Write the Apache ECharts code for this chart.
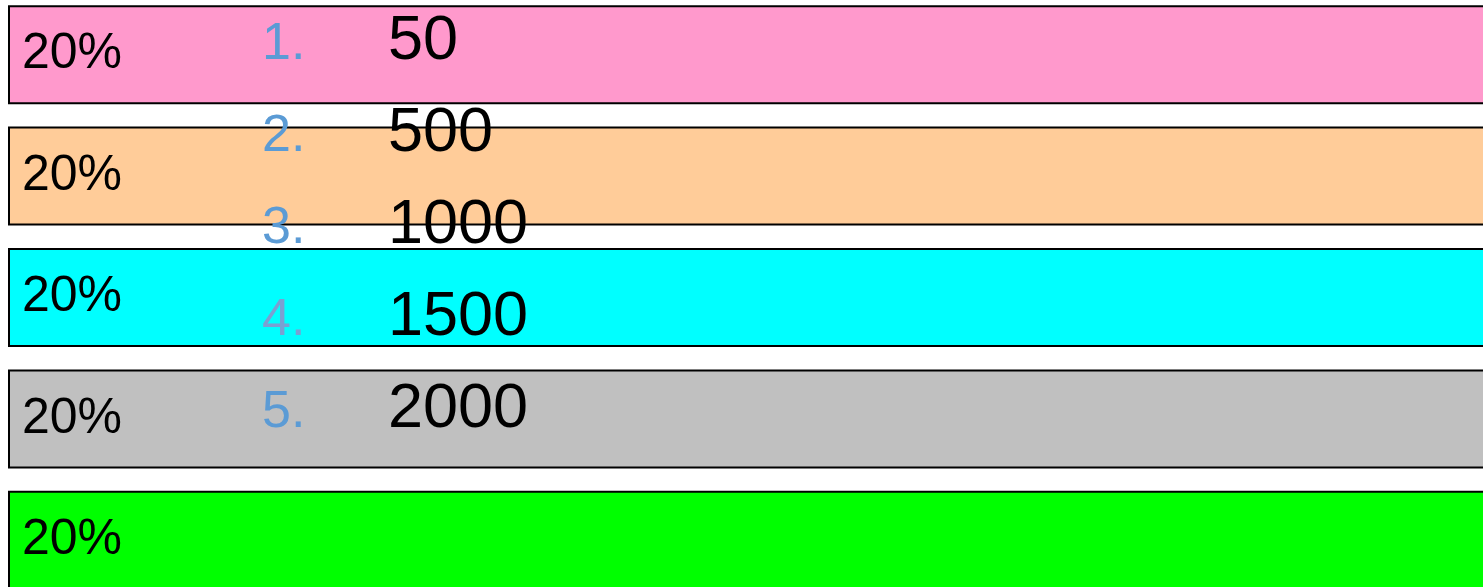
<!DOCTYPE html>
<html>
<head>
<meta charset="utf-8">
<script src="https://cdn.jsdelivr.net/npm/echarts@6/dist/echarts.min.js"></script>
<style>
html,body{margin:0;padding:0;background:#fff;overflow:hidden;width:1483px;height:587px;position:relative;}
#chart{position:absolute;left:0;top:-6px;width:1520px;height:607px;}
</style>
</head>
<body>
<div id="chart"></div>
<script>
// Data
var categories = ['A', 'B', 'C', 'D', 'E'];
var shareValues = [20, 20, 20, 20, 20];
var barColors = ['#ff99cc', '#ffcc99', '#00ffff', '#c0c0c0', '#00ff00'];
var listNumbers = ['1.', '2.', '3.', '4.', '5.'];
var listValues = ['50', '500', '1000', '1500', '2000'];
var numberColors = ['#5b9bd5', '#5b9bd5', '#5b9bd5', '#7aa0d2', '#5b9bd5'];

var chart = echarts.init(document.getElementById('chart'));

var offsetY = 6; // chart div is shifted up by 6px
var graphics = [];
var baseTop = 62, rowStep = 92;
for (var i = 0; i < listValues.length; i++) {
  var baseline = baseTop + rowStep * i + offsetY;
  graphics.push({
    type: 'text', left: 262, top: baseline - 43, z: 100,
    style: { text: listNumbers[i], fill: numberColors[i], font: '52px "Liberation Sans", Arial, sans-serif' }
  });
  graphics.push({
    type: 'text', left: 388, top: baseline - 52, z: 100,
    style: { text: listValues[i], fill: '#000', font: '63px "Liberation Sans", Arial, sans-serif' }
  });
}

chart.setOption({
  animation: false,
  backgroundColor: '#ffffff',
  grid: { left: 8, right: 0, top: 0, bottom: 0, containLabel: false },
  xAxis: { type: 'value', min: 0, max: 20, show: false },
  yAxis: { type: 'category', data: categories, inverse: true, show: false },
  series: [{
    type: 'bar',
    barWidth: 99,
    data: shareValues.map(function (v, i) {
      return { value: v, itemStyle: { color: barColors[i] } };
    }),
    itemStyle: { borderColor: '#000', borderWidth: 2 },
    label: {
      show: true, position: 'insideLeft', distance: 14,
      formatter: function (p) { return p.value + '%'; },
      color: '#000', fontSize: 50, fontFamily: '"Liberation Sans", Arial, sans-serif'
    }
  }],
  graphic: graphics
});
</script>
</body>
</html>
